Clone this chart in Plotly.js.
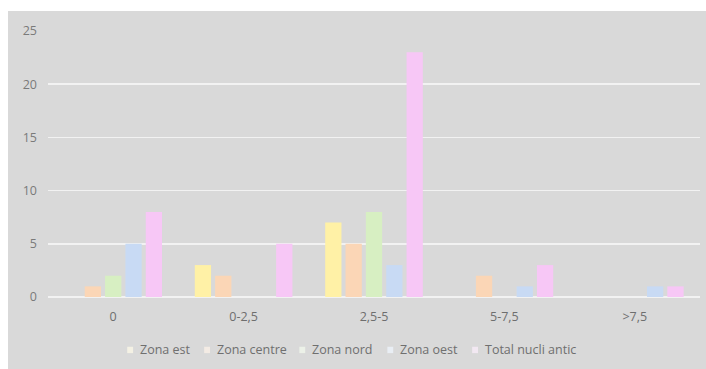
<!DOCTYPE html>
<html>
<head>
<meta charset="utf-8">
<script src="https://cdn.plot.ly/plotly-3.0.1.min.js"></script>
<style>
html,body{margin:0;padding:0;background:#ffffff;width:706px;height:369px;overflow:hidden;}
#wrap{position:absolute;left:8px;top:11px;width:698px;height:358px;background:#d9d9d9;}
#chart{width:698px;height:358px;}
</style>
</head>
<body>
<div id="wrap"><div id="chart"></div></div>
<script>
const categories = ["0", "0-2,5", "2,5-5", "5-7,5", ">7,5"];
const seriesNames = ["Zona est", "Zona centre", "Zona nord", "Zona oest", "Total nucli antic"];
const zonaEst = [0, 3, 7, 0, 0];
const zonaCentre = [1, 2, 5, 2, 0];
const zonaNord = [2, 0, 8, 0, 0];
const zonaOest = [5, 0, 3, 1, 1];
const totalNucliAntic = [8, 5, 23, 3, 1];
const colors = ["#fff1a6", "#fbd6b6", "#d7efc2", "#c8daf4", "#f7c7f6"];
const legendSwatch = ["#f4f1e4", "#f3ebe4", "#ecf1e8", "#e9eef4", "#f2e8f2"];

const values = [zonaEst, zonaCentre, zonaNord, zonaOest, totalNucliAntic];
const traces = values.map((v, i) => ({
  type: "bar",
  name: seriesNames[i],
  x: categories,
  y: v,
  marker: {color: colors[i]},
  hoverinfo: "none",
  showlegend: false
}));

// custom legend layout (Excel-style compact spacing)
const legTextX = [0.138, 0.256, 0.402, 0.537, 0.667];
const legY = -0.199;
const annotations = seriesNames.map((n, i) => ({
  xref: "paper", yref: "paper",
  x: legTextX[i], y: legY,
  xanchor: "left", yanchor: "middle",
  text: n, showarrow: false,
  font: {size: 12.5, color: "#6f6f6f"}
}));
const shapes = seriesNames.map((n, i) => ({
  type: "rect", xref: "paper", yref: "paper",
  x0: legTextX[i] - 0.0165, x1: legTextX[i] - 0.0075,
  y0: legY - 0.012, y1: legY + 0.012,
  fillcolor: legendSwatch[i], line: {width: 0}
}));

const layout = {
  width: 698,
  height: 358,
  paper_bgcolor: "#d9d9d9",
  plot_bgcolor: "#d9d9d9",
  margin: {l: 40, r: 6, t: 20, b: 72},
  barmode: "group",
  bargap: 0.22,
  bargroupgap: 0.2,
  font: {family: "Open Sans, Liberation Sans, sans-serif", size: 12, color: "#7a7a7a"},
  showlegend: false,
  annotations: annotations,
  shapes: shapes,
  xaxis: {
    type: "category",
    showgrid: false,
    showline: false,
    zeroline: false,
    ticks: "",
    ticklabelstandoff: 10,
    tickfont: {size: 12.5, color: "#6e6e6e"}
  },
  yaxis: {
    range: [0, 25],
    dtick: 5,
    showgrid: true,
    gridcolor: "#f2f2f2",
    gridwidth: 1.5,
    zeroline: true,
    zerolinecolor: "#f2f2f2",
    zerolinewidth: 1.5,
    showline: false,
    ticks: "",
    ticklabelstandoff: 10,
    tickfont: {size: 12.5, color: "#7a7a7a"}
  }
};

Plotly.newPlot("chart", traces, layout, {displayModeBar: false, staticPlot: true});
</script>
</body>
</html>
